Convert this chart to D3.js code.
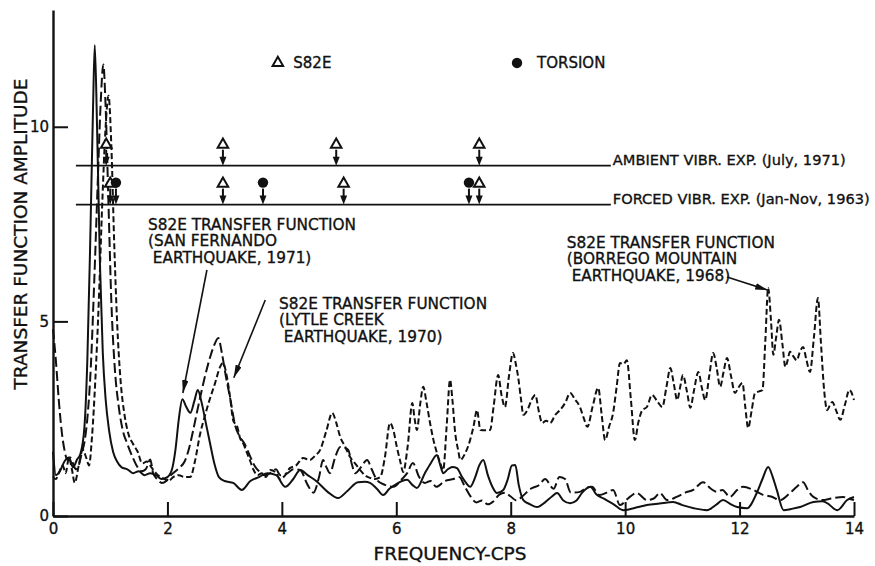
<!DOCTYPE html>
<html>
<head>
<meta charset="utf-8">
<script src="https://cdn.jsdelivr.net/npm/d3@7"></script>
<style>
	body { margin: 0; background: #fff; }
	svg { display: block; font-family: "DejaVu Sans", sans-serif; }
	svg text { stroke: #111; stroke-width: 0.35px; }
</style>
</head>
<body>
<script>
var xTicks = [0, 2, 4, 6, 8, 10, 12, 14];
var yTicks = [0, 5, 10];

// S82E transfer function, San Fernando earthquake 1971 (solid)
var sanFernando = [
	[0, 1.65], [0.05, 1.05], [0.12, 1.15], [0.2, 1.4], [0.28, 1.5], [0.35, 1.25], [0.42, 1.45], [0.48, 1.6],
	[0.55, 2.3], [0.6, 4.0], [0.65, 7.0], [0.7, 10.5], [0.73, 12.1], [0.77, 10.0], [0.82, 6.5], [0.87, 4.2],
	[0.92, 3.0], [0.98, 2.2], [1.05, 1.65], [1.12, 1.4], [1.2, 1.25], [1.3, 1.2], [1.4, 1.1], [1.5, 1.15],
	[1.6, 1.05], [1.7, 1.1], [1.8, 1.05], [1.9, 0.95], [2.0, 1.0], [2.08, 1.2], [2.14, 1.7], [2.2, 2.5],
	[2.26, 3.0], [2.33, 2.8], [2.4, 2.65], [2.47, 2.95], [2.53, 3.24], [2.6, 2.9], [2.67, 2.4], [2.74, 1.9],
	[2.82, 1.35], [2.9, 1.0], [3.0, 0.9], [3.15, 0.85], [3.3, 0.67], [3.45, 0.9], [3.6, 1.0], [3.75, 1.1],
	[3.9, 1.05], [4.06, 0.75], [4.2, 0.95], [4.32, 1.18], [4.45, 1.05], [4.6, 0.9], [4.8, 0.62], [4.98, 0.46],
	[5.15, 0.65], [5.33, 0.87], [5.45, 0.88], [5.54, 0.85], [5.66, 0.7], [5.77, 0.54], [5.88, 0.7], [5.98, 0.8],
	[6.1, 0.9], [6.19, 0.93], [6.28, 0.8], [6.36, 0.72], [6.5, 1.1], [6.6, 1.35], [6.71, 1.57], [6.77, 1.3],
	[6.82, 1.1], [6.9, 1.2], [6.98, 1.26], [7.06, 1.23], [7.15, 1.0], [7.22, 0.85], [7.29, 0.75], [7.38, 1.0],
	[7.45, 1.3], [7.52, 1.44], [7.6, 1.05], [7.68, 0.75], [7.76, 0.59], [7.87, 0.67], [7.95, 0.95], [8.02, 1.3],
	[8.08, 1.31], [8.14, 0.8], [8.22, 0.41], [8.34, 0.3], [8.46, 0.23], [8.6, 0.35], [8.72, 0.5], [8.81, 0.59],
	[8.92, 0.4], [9.04, 0.33], [9.15, 0.4], [9.25, 0.6], [9.39, 0.75], [9.5, 0.55], [9.62, 0.45], [9.8, 0.3],
	[9.97, 0.15], [10.15, 0.2], [10.38, 0.28], [10.6, 0.32], [10.84, 0.36], [11.0, 0.28], [11.2, 0.2], [11.43, 0.15],
	[11.6, 0.3], [11.71, 0.41], [11.85, 0.3], [11.96, 0.23], [12.13, 0.2], [12.3, 0.59], [12.4, 0.95], [12.5, 1.26],
	[12.58, 1.0], [12.65, 0.67], [12.77, 0.15], [12.9, 0.18], [13.06, 0.23], [13.29, 0.36], [13.45, 0.38], [13.53, 0.33],
	[13.71, 0.15], [13.88, 0.41], [14, 0.49]
];

// S82E transfer function, Lytle Creek earthquake 1970 (long dash)
var lytleCreek = [
	[0, 4.8], [0.05, 4.0], [0.1, 3.0], [0.15, 2.2], [0.2, 1.7], [0.25, 1.45], [0.3, 1.5], [0.35, 1.35],
	[0.4, 1.2], [0.45, 1.3], [0.5, 1.6], [0.55, 1.9], [0.6, 2.5], [0.66, 3.8], [0.72, 6.0], [0.78, 8.5],
	[0.83, 10.5], [0.88, 11.6], [0.92, 10.5], [0.97, 8.0], [1.02, 5.5], [1.08, 3.8], [1.15, 2.8], [1.22, 2.2],
	[1.3, 1.85], [1.38, 1.55], [1.46, 1.3], [1.55, 1.15], [1.62, 1.2], [1.7, 1.45], [1.75, 1.1], [1.82, 0.95],
	[1.9, 0.85], [1.98, 0.9], [2.06, 1.05], [2.14, 1.15], [2.22, 1.25], [2.3, 1.4], [2.38, 1.75], [2.45, 2.2],
	[2.55, 2.9], [2.65, 3.55], [2.75, 4.1], [2.82, 4.4], [2.89, 4.57], [2.95, 4.2], [3.02, 3.6], [3.1, 3.0],
	[3.18, 2.35], [3.26, 2.05], [3.35, 1.85], [3.44, 1.55], [3.52, 1.3], [3.6, 1.15], [3.7, 1.05], [3.8, 1.1],
	[3.9, 1.2], [3.97, 1.05], [4.1, 1.1], [4.2, 1.2], [4.32, 1.18], [4.45, 0.8], [4.55, 0.6], [4.65, 1.0],
	[4.72, 1.44], [4.78, 1.25], [4.84, 1.1], [4.93, 1.5], [5.02, 1.77], [5.1, 1.75], [5.16, 1.7], [5.22, 1.35],
	[5.28, 1.1], [5.38, 1.25], [5.49, 1.44], [5.57, 1.2], [5.66, 0.93], [5.8, 0.8], [5.95, 0.75], [6.1, 0.95],
	[6.19, 1.1], [6.29, 1.36], [6.4, 1.0], [6.5, 0.85], [6.6, 0.9], [6.7, 0.75], [6.85, 0.9], [7.0, 0.95],
	[7.1, 1.0], [7.2, 0.75], [7.3, 0.5], [7.4, 0.35], [7.5, 0.4], [7.6, 0.3], [7.7, 0.38], [7.8, 0.55],
	[7.9, 0.6], [8.0, 0.5], [8.1, 0.4], [8.2, 0.5], [8.35, 0.7], [8.5, 0.8], [8.6, 0.95], [8.75, 0.7],
	[8.85, 1.0], [8.95, 0.95], [9.05, 0.6], [9.21, 0.62], [9.32, 0.72], [9.42, 0.75], [9.55, 0.54], [9.68, 0.6],
	[9.79, 0.67], [9.91, 0.28], [10.05, 0.45], [10.2, 0.59], [10.38, 0.41], [10.5, 0.45], [10.61, 0.59], [10.73, 0.41],
	[10.9, 0.49], [11.05, 0.6], [11.19, 0.67], [11.36, 0.87], [11.5, 0.7], [11.6, 0.62], [11.7, 0.67], [11.83, 0.49],
	[11.96, 0.67], [12.06, 0.75], [12.24, 0.67], [12.4, 0.55], [12.55, 0.5], [12.71, 0.41], [12.88, 0.59], [13.0, 0.75],
	[13.11, 0.87], [13.2, 0.65], [13.29, 0.49], [13.45, 0.41], [13.6, 0.45], [13.81, 0.49], [13.9, 0.45], [14, 0.41]
];

// S82E transfer function, Borrego Mountain earthquake 1968 (short dash)
var borrego = [
	[0, 1.0], [0.05, 0.95], [0.1, 1.1], [0.17, 1.3], [0.22, 1.1], [0.28, 1.5], [0.33, 1.2], [0.38, 0.85],
	[0.45, 1.3], [0.52, 1.7], [0.58, 1.5], [0.63, 1.3], [0.68, 2.0], [0.74, 3.5], [0.8, 5.5], [0.86, 8.0],
	[0.92, 10.0], [0.97, 10.8], [1.02, 9.5], [1.07, 7.0], [1.12, 5.0], [1.18, 3.5], [1.25, 2.6], [1.32, 2.1],
	[1.4, 1.85], [1.48, 1.65], [1.56, 1.35], [1.64, 1.4], [1.72, 1.25], [1.8, 1.1], [1.88, 1.0], [1.95, 0.95],
	[2.02, 0.9], [2.1, 1.0], [2.2, 1.05], [2.3, 1.0], [2.4, 1.0], [2.48, 1.4], [2.57, 2.1], [2.66, 2.6],
	[2.74, 3.0], [2.83, 3.4], [2.92, 3.83], [2.97, 3.93], [3.04, 3.57], [3.1, 3.0], [3.15, 2.45], [3.22, 2.3],
	[3.27, 2.0], [3.33, 1.85], [3.39, 1.62], [3.45, 1.4], [3.5, 1.2], [3.58, 1.05], [3.65, 1.1], [3.72, 1.0],
	[3.8, 1.18], [3.9, 1.1], [3.97, 0.95], [4.06, 1.05], [4.14, 1.23], [4.25, 1.3], [4.37, 1.49], [4.49, 1.44],
	[4.58, 1.55], [4.67, 1.7], [4.78, 2.2], [4.88, 2.65], [4.95, 2.4], [5.02, 2.03], [5.1, 1.8], [5.19, 1.52],
	[5.28, 1.35], [5.37, 1.18], [5.45, 1.05], [5.54, 0.98], [5.63, 0.95], [5.72, 1.0], [5.8, 1.5], [5.89, 2.39],
	[5.95, 2.2], [6.01, 1.77], [6.07, 1.4], [6.12, 1.13], [6.2, 1.8], [6.28, 2.9], [6.32, 2.5], [6.36, 2.21],
	[6.42, 2.9], [6.47, 3.32], [6.53, 2.9], [6.59, 2.39], [6.65, 1.95], [6.71, 1.62], [6.77, 1.35], [6.82, 1.18],
	[6.88, 2.3], [6.94, 3.5], [6.98, 3.0], [7.03, 2.13], [7.08, 1.7], [7.12, 1.44], [7.2, 1.6], [7.29, 1.95],
	[7.35, 2.3], [7.41, 2.72], [7.47, 2.21], [7.55, 2.2], [7.64, 2.21], [7.7, 2.8], [7.78, 3.62], [7.84, 3.1],
	[7.9, 2.8], [7.97, 3.6], [8.04, 4.19], [8.09, 3.9], [8.13, 3.57], [8.18, 3.0], [8.22, 2.6], [8.3, 2.75],
	[8.37, 3.0], [8.43, 3.11], [8.49, 2.7], [8.55, 2.39], [8.62, 2.45], [8.69, 2.39], [8.78, 2.6], [8.86, 2.72],
	[8.95, 2.9], [9.04, 3.16], [9.12, 3.0], [9.21, 2.8], [9.28, 2.5], [9.34, 2.29], [9.43, 2.8], [9.53, 3.29],
	[9.59, 2.6], [9.65, 1.95], [9.72, 2.3], [9.79, 2.65], [9.85, 3.3], [9.91, 3.93], [9.97, 3.9], [10.03, 4.0],
	[10.1, 3.0], [10.17, 1.95], [10.23, 2.4], [10.3, 2.72], [10.38, 2.8], [10.47, 3.11], [10.56, 2.95], [10.65, 2.8],
	[10.72, 3.3], [10.79, 3.8], [10.85, 3.4], [10.91, 2.98], [10.96, 3.3], [11.01, 3.62], [11.08, 3.2], [11.14, 2.78],
	[11.2, 3.2], [11.28, 3.7], [11.34, 3.3], [11.4, 2.98], [11.47, 3.6], [11.54, 4.19], [11.6, 3.8], [11.66, 3.32],
	[11.72, 3.7], [11.78, 4.06], [11.85, 3.6], [11.92, 3.16], [11.98, 3.3], [12.05, 3.42], [12.1, 2.8], [12.15, 2.26],
	[12.21, 2.7], [12.27, 3.16], [12.34, 3.2], [12.4, 3.24], [12.45, 4.5], [12.5, 5.86], [12.55, 5.0], [12.59, 4.14],
	[12.64, 4.6], [12.69, 5.04], [12.75, 4.4], [12.8, 3.83], [12.84, 4.0], [12.88, 4.22], [12.94, 4.1], [13.0, 4.0],
	[13.05, 4.2], [13.11, 4.34], [13.17, 4.0], [13.23, 3.7], [13.3, 4.6], [13.37, 5.6], [13.42, 4.5], [13.48, 3.2],
	[13.53, 2.72], [13.58, 2.85], [13.62, 2.93], [13.69, 2.7], [13.76, 2.47], [13.84, 2.85], [13.92, 3.24], [14, 2.98]
];

// measured modal frequencies (cps)
var ambientS82E = [0.93, 2.97, 4.95, 7.45];
var forcedS82E = [1.0, 2.97, 5.08, 7.45];
var forcedTorsion = [1.1, 3.67, 7.27];
var ambientLevel = 9;
var forcedLevel = 8;
var expRange = [0.4, 9.75];

var width = 875, height = 566, ink = '#111';

var svg = d3.select('body').append('svg')
	.attr('width', width)
	.attr('height', height);

var x = d3.scaleLinear().domain([0, 14]).range([53, 854]);
var y = d3.scaleLinear().domain([0, 13]).range([516, 10]);

svg.append('defs').append('marker')
	.attr('id', 'head')
	.attr('viewBox', '0 0 12 6')
	.attr('refX', 12).attr('refY', 3)
	.attr('markerWidth', 13).attr('markerHeight', 6.5)
	.attr('markerUnits', 'userSpaceOnUse')
	.attr('orient', 'auto')
	.append('path')
	.attr('d', 'M0,0 L12,3 L0,6 Z')
	.attr('fill', ink);

// axes
var xAxis = svg.append('g')
	.attr('transform', 'translate(0,' + y(0) + ')')
	.call(d3.axisBottom(x).tickValues(xTicks).tickSizeInner(-14).tickSizeOuter(0).tickPadding(7));
var yAxis = svg.append('g')
	.attr('transform', 'translate(' + x(0) + ',0)')
	.call(d3.axisLeft(y).tickValues(yTicks).tickSizeInner(-15).tickSizeOuter(0).tickPadding(4));

[xAxis, yAxis].forEach(function(g) {
	g.select('.domain').attr('stroke', ink).attr('stroke-width', 2.4);
	g.selectAll('.tick line').attr('stroke', ink).attr('stroke-width', 2);
	g.selectAll('.tick text')
		.attr('fill', ink)
		.style('font-family', '"DejaVu Sans", sans-serif')
		.style('font-size', '15px');
});

svg.append('text')
	.attr('x', 450).attr('y', 560)
	.attr('text-anchor', 'middle')
	.attr('fill', ink)
	.style('font-size', '18.5px')
	.text('FREQUENCY-CPS');

svg.append('text')
	.attr('transform', 'translate(27,234) rotate(-90)')
	.attr('text-anchor', 'middle')
	.attr('fill', ink)
	.style('font-size', '18.5px')
	.text('TRANSFER FUNCTION AMPLITUDE');

// transfer function curves
var line = d3.line()
	.x(function(d) { return x(d[0]); })
	.y(function(d) { return y(d[1]); })
	.curve(d3.curveMonotoneX);

var curves = [
	{ data: sanFernando, dash: null },
	{ data: lytleCreek, dash: '10,4' },
	{ data: borrego, dash: '6,3' }
];

svg.selectAll('path.curve')
	.data(curves)
	.enter()
	.append('path')
	.attr('class', 'curve')
	.attr('d', function(d) { return line(d.data); })
	.attr('fill', 'none')
	.attr('stroke', ink)
	.attr('stroke-width', 2)
	.attr('stroke-dasharray', function(d) { return d.dash; });

// experiment rows
var rows = [
	{ level: ambientLevel, label: 'AMBIENT VIBR. EXP. (July, 1971)' },
	{ level: forcedLevel, label: 'FORCED VIBR. EXP. (Jan-Nov, 1963)' }
];

rows.forEach(function(r) {
	svg.append('line')
		.attr('x1', x(expRange[0])).attr('x2', x(expRange[1]))
		.attr('y1', y(r.level)).attr('y2', y(r.level))
		.attr('stroke', ink)
		.attr('stroke-width', 1.8);
	svg.append('text')
		.attr('x', x(expRange[1]) + 2)
		.attr('y', y(r.level) - 1)
		.attr('fill', ink)
		.style('font-size', '14.6px')
		.text(r.label);
});

var triangle = d3.symbol().type(d3.symbolTriangle).size(48);
var circle = d3.symbol().type(d3.symbolCircle).size(85);

var marks = [];
ambientS82E.forEach(function(f) { marks.push({ f: f, level: ambientLevel, kind: 'tri' }); });
forcedS82E.forEach(function(f) { marks.push({ f: f, level: forcedLevel, kind: 'tri' }); });
forcedTorsion.forEach(function(f) { marks.push({ f: f, level: forcedLevel, kind: 'dot' }); });

var mg = svg.selectAll('g.mark')
	.data(marks)
	.enter()
	.append('g')
	.attr('class', 'mark')
	.attr('transform', function(d) { return 'translate(' + x(d.f) + ',' + y(d.level) + ')'; });

mg.append('line')
	.attr('x1', 0).attr('x2', 0)
	.attr('y1', -16).attr('y2', -6)
	.attr('stroke', ink)
	.attr('stroke-width', 2);
mg.append('path')
	.attr('d', 'M-3.5,-9 L3.5,-9 L0,0 Z')
	.attr('fill', ink);
mg.append('path')
	.attr('transform', function(d) { return d.kind === 'tri' ? 'translate(0,-21)' : 'translate(0,-22)'; })
	.attr('d', function(d) { return d.kind === 'tri' ? triangle() : circle(); })
	.attr('fill', function(d) { return d.kind === 'tri' ? '#fff' : ink; })
	.attr('stroke', ink)
	.attr('stroke-width', function(d) { return d.kind === 'tri' ? 2 : 0; });

// legend
svg.append('path')
	.attr('transform', 'translate(' + x(3.93) + ',' + y(11.64) + ')')
	.attr('d', triangle())
	.attr('fill', '#fff').attr('stroke', ink).attr('stroke-width', 2);
svg.append('text')
	.attr('x', x(4.2)).attr('y', y(11.64) + 5.5)
	.attr('fill', ink).style('font-size', '15px')
	.text('S82E');
svg.append('path')
	.attr('transform', 'translate(' + x(8.11) + ',' + y(11.64) + ')')
	.attr('d', circle())
	.attr('fill', ink);
svg.append('text')
	.attr('x', x(8.46)).attr('y', y(11.64) + 5.5)
	.attr('fill', ink).style('font-size', '15px')
	.text('TORSION');

// annotations
var notes = [
	{ at: [1.66, 7.35], lines: ['S82E TRANSFER FUNCTION', '(SAN FERNANDO', ' EARTHQUAKE, 1971)'], from: [2.69, 6.32], to: [2.27, 3.16] },
	{ at: [3.95, 5.33], lines: ['S82E TRANSFER FUNCTION', '(LYTLE CREEK', ' EARTHQUAKE, 1970)'], from: [3.71, 5.55], to: [3.16, 3.55] },
	{ at: [8.98, 6.89], lines: ['S82E TRANSFER FUNCTION', '(BORREGO MOUNTAIN', ' EARTHQUAKE, 1968)'], from: [11.78, 6.14], to: [12.5, 5.8] }
];

notes.forEach(function(n) {
	var t = svg.append('text')
		.attr('x', x(n.at[0])).attr('y', y(n.at[1]))
		.attr('fill', ink)
		.style('font-size', '15.3px')
		.style('white-space', 'pre');
	n.lines.forEach(function(s, i) {
		t.append('tspan')
			.attr('x', x(n.at[0]))
			.attr('dy', i === 0 ? 0 : 16.5)
			.text(s);
	});
	svg.append('line')
		.attr('x1', x(n.from[0])).attr('y1', y(n.from[1]))
		.attr('x2', x(n.to[0])).attr('y2', y(n.to[1]))
		.attr('stroke', ink)
		.attr('stroke-width', 1.6)
		.attr('marker-end', 'url(#head)');
});
</script>
</body>
</html>
